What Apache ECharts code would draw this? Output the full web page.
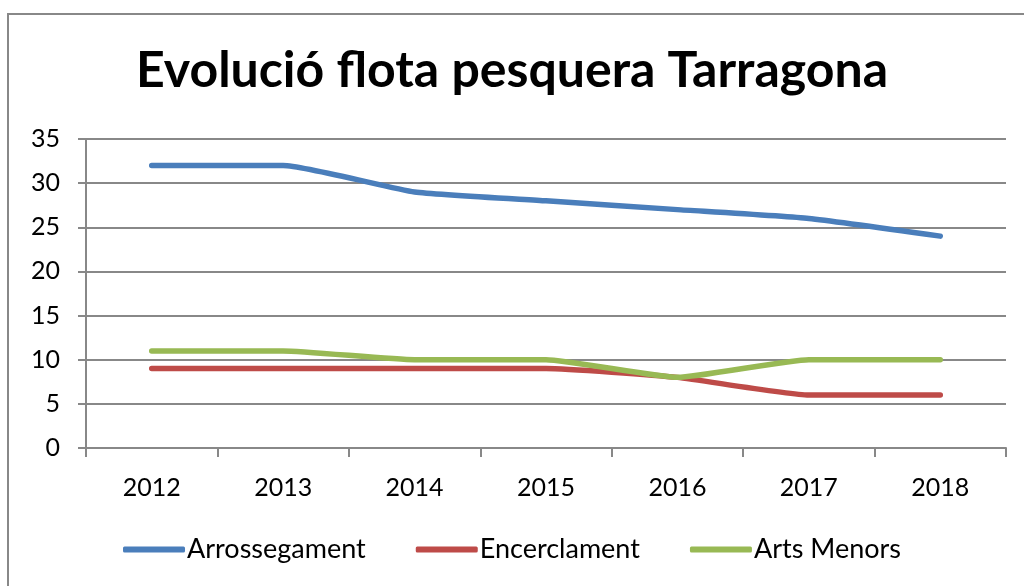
<!DOCTYPE html>
<html>
<head>
<meta charset="utf-8">
<script src="https://cdn.jsdelivr.net/npm/echarts@6/dist/echarts.min.js"></script>
<style>
html, body { margin: 0; padding: 0; background: #fff; }
#chart { width: 1024px; height: 586px; }
</style>
</head>
<body>
<div id="chart"></div>
<script>
// dades
var years = ['2012', '2013', '2014', '2015', '2016', '2017', '2018'];
var arrossegament = [32, 32, 29, 28, 27, 26, 24];
var encerclament = [9, 9, 9, 9, 8, 6, 6];
var artsMenors = [11, 11, 10, 10, 8, 10, 10];
var yTicks = [0, 5, 10, 15, 20, 25, 30, 35];

var font = 'Lato, "Open Sans", sans-serif';

function lineSeries(name, data, color) {
    return {
        name: name,
        type: 'line',
        data: data,
        symbol: 'none',
        smooth: 0.15,
        lineStyle: { color: color, width: 5.5, cap: 'round', join: 'round' },
        itemStyle: { color: color }
    };
}

var chart = echarts.init(document.getElementById('chart'));
chart.setOption({
    animation: false,
    graphic: [{
        type: 'rect',
        shape: { x: 8, y: 14, width: 1030, height: 600 },
        style: { fill: 'none', stroke: '#888', lineWidth: 2 },
        silent: true
    }],
    title: {
        text: 'Evolució flota pesquera Tarragona',
        left: 'center',
        top: 41,
        textStyle: { fontFamily: font, fontSize: 50, fontWeight: 'bold', color: '#000' }
    },
    legend: {
        bottom: 18,
        left: 'center',
        icon: 'roundRect',
        itemWidth: 62,
        itemHeight: 6,
        itemGap: 50,
        textStyle: { fontFamily: font, fontSize: 27, color: '#000', padding: [0, 0, 0, -3] },
        data: ['Arrossegament', 'Encerclament', 'Arts Menors']
    },
    grid: { left: 86, right: 18, top: 139, bottom: 138 },
    xAxis: {
        type: 'category',
        data: years,
        boundaryGap: true,
        axisLine: { lineStyle: { color: '#888', width: 2 } },
        axisTick: { show: true, length: 9, lineStyle: { color: '#888', width: 2 } },
        axisLabel: { fontFamily: font, fontSize: 25, color: '#000', margin: 27 }
    },
    yAxis: {
        type: 'value',
        min: yTicks[0],
        max: yTicks[yTicks.length - 1],
        interval: 5,
        axisLine: { show: true, lineStyle: { color: '#888', width: 2 } },
        axisTick: { show: true, length: 8, lineStyle: { color: '#888', width: 2 } },
        axisLabel: { fontFamily: font, fontSize: 25, color: '#000', margin: 26 },
        splitLine: { lineStyle: { color: '#888', width: 2 } }
    },
    series: [
        lineSeries('Arrossegament', arrossegament, '#4A7EBB'),
        lineSeries('Encerclament', encerclament, '#BE4B48'),
        lineSeries('Arts Menors', artsMenors, '#98B954')
    ]
});
</script>
</body>
</html>
